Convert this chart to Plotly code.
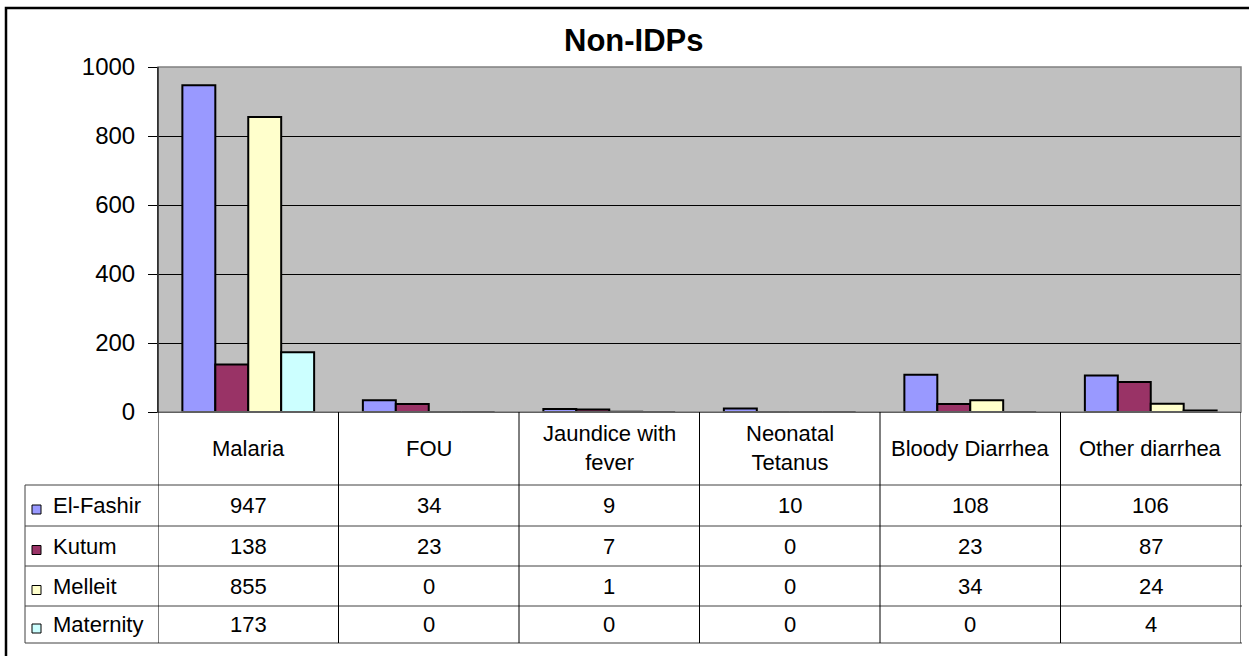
import plotly.graph_objects as go

# ---------------- data ----------------
categories = ["Malaria", "FOU", "Jaundice with fever", "Neonatal Tetanus",
              "Bloody Diarrhea", "Other diarrhea"]
category_labels = ["Malaria", "FOU", "Jaundice with<br>fever", "Neonatal<br>Tetanus",
                   "Bloody Diarrhea", "Other diarrhea"]
series_names = ["El-Fashir", "Kutum", "Melleit", "Maternity"]
el_fashir = [947, 34, 9, 10, 108, 106]
kutum = [138, 23, 7, 0, 23, 87]
melleit = [855, 0, 1, 0, 34, 24]
maternity = [173, 0, 0, 0, 0, 4]
series_values = [el_fashir, kutum, melleit, maternity]
series_colors = ["#9999FF", "#993366", "#FFFFCC", "#CCFFFF"]
y_ticks = [0, 200, 400, 600, 800, 1000]
title_text = "Non-IDPs"

# ---------------- layout helpers (pixel -> paper) ----------------
W, H = 1249, 656
def px(x):
    return x / W
def py(y):
    return 1 - y / H

FONT = "Arial, 'Liberation Sans', sans-serif"
PLOT_L, PLOT_R, PLOT_T, PLOT_B = 158, 1241, 67, 412
ROW_LINES = [485, 526, 566, 606, 643]
TABLE_LEFT = 25

fig = go.Figure()
for name, vals, col in zip(series_names, series_values, series_colors):
    fig.add_trace(go.Bar(
        x=categories, y=vals, name=name,
        marker=dict(color=col, line=dict(color="black", width=2)),
        showlegend=False,
    ))

shapes = []
# plot area top/right border (grey)
shapes.append(dict(type="rect", xref="x domain", yref="y domain", x0=0, x1=1, y0=0, y1=1,
                   line=dict(color="#808080", width=1.5), layer="above"))
# left axis line in black on top of grey border
shapes.append(dict(type="line", xref="x domain", yref="y domain", x0=0, x1=0, y0=0, y1=1,
                   line=dict(color="black", width=1), layer="above"))
# table horizontal lines
for r in ROW_LINES:
    shapes.append(dict(type="line", xref="paper", yref="paper",
                       x0=px(TABLE_LEFT), x1=px(PLOT_R + 1), y0=py(r), y1=py(r),
                       line=dict(color="#404040", width=1)))
# table vertical lines at category boundaries
for i in range(len(categories) + 1):
    shapes.append(dict(type="line", xref="x", yref="paper",
                       x0=i - 0.5, x1=i - 0.5, y0=py(PLOT_B), y1=py(ROW_LINES[-1]),
                       line=dict(color="black", width=1)))
# table left border
shapes.append(dict(type="line", xref="paper", yref="paper",
                   x0=px(TABLE_LEFT), x1=px(TABLE_LEFT), y0=py(ROW_LINES[0]), y1=py(ROW_LINES[-1]),
                   line=dict(color="#404040", width=1)))
# legend swatches
for k, col in enumerate(series_colors):
    cy = (ROW_LINES[k] + ROW_LINES[k + 1]) / 2 + 4
    shapes.append(dict(type="rect", xref="paper", yref="paper",
                       x0=px(32), x1=px(41), y0=py(cy - 4.5), y1=py(cy + 4.5),
                       fillcolor=col, line=dict(color="black", width=1)))
# outer chart border (left & top visible)
shapes.append(dict(type="rect", xref="paper", yref="paper",
                   x0=px(6), x1=px(1262), y0=py(8), y1=py(680),
                   line=dict(color="black", width=2.5)))

annotations = []
annotations.append(dict(text="<b>" + title_text + "</b>", xref="paper", yref="paper",
                        x=px(634), y=py(40), xanchor="center", yanchor="middle",
                        showarrow=False, font=dict(family=FONT, size=31, color="black")))
for cat, lab in zip(categories, category_labels):
    annotations.append(dict(text=lab, xref="x", yref="paper", x=cat, y=py(448),
                            xanchor="center", yanchor="middle", showarrow=False,
                            font=dict(family=FONT, size=22, color="black")))
for k, (name, vals) in enumerate(zip(series_names, series_values)):
    cy = (ROW_LINES[k] + ROW_LINES[k + 1]) / 2
    annotations.append(dict(text=name, xref="paper", yref="paper", x=px(51), y=py(cy),
                            xanchor="left", yanchor="middle", showarrow=False,
                            font=dict(family=FONT, size=22, color="black")))
    for cat, v in zip(categories, vals):
        annotations.append(dict(text=str(v), xref="x", yref="paper", x=cat, y=py(cy),
                                xanchor="center", yanchor="middle", showarrow=False,
                                font=dict(family=FONT, size=22, color="black")))

fig.update_layout(
    width=W, height=H,
    margin=dict(l=0, r=0, t=0, b=0, pad=0, autoexpand=False),
    paper_bgcolor="white",
    plot_bgcolor="#C0C0C0",
    barmode="group", bargap=0.27, bargroupgap=0,
    showlegend=False,
    shapes=shapes,
    annotations=annotations,
    font=dict(family=FONT, color="black"),
    xaxis=dict(domain=[px(PLOT_L), px(PLOT_R)], range=[-0.5, len(categories) - 0.5],
               showticklabels=False, showgrid=False, zeroline=False, ticks="",
               showline=True, linecolor="black", linewidth=1, fixedrange=True,
               automargin=False),
    yaxis=dict(domain=[py(PLOT_B), py(PLOT_T)], range=[0, 1000], tickvals=y_ticks,
               ticks="outside", ticklen=9, tickcolor="black", tickwidth=1,
               tickfont=dict(family=FONT, size=24, color="black"),
               showgrid=True, gridcolor="black", gridwidth=1, zeroline=False,
               showline=True, linecolor="black", linewidth=1, ticklabelstandoff=8,
               fixedrange=True, automargin=False),
)

fig.write_html("out.html", config={"displayModeBar": False},
               post_script="document.body.style.margin='0px';document.body.style.overflow='hidden';")
